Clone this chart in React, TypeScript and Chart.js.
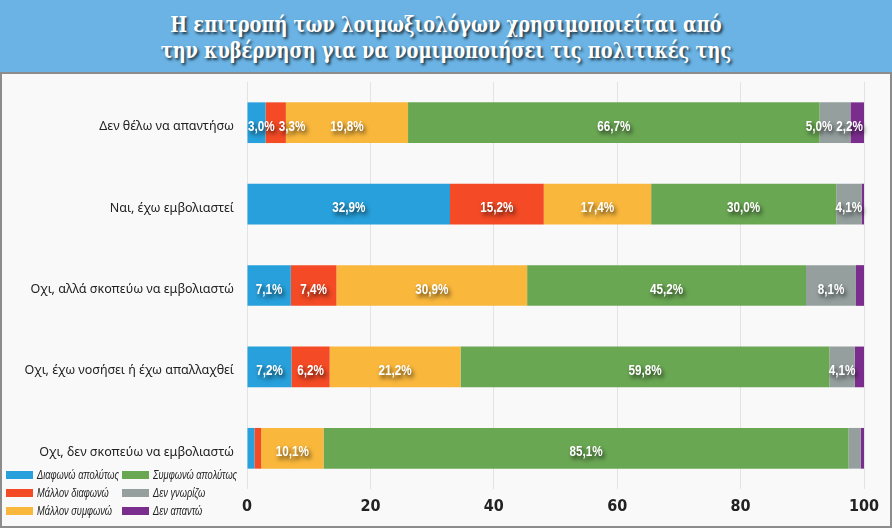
import React, { useEffect, useRef } from 'react';
import { Chart, registerables } from 'chart.js';

Chart.register(...registerables);

const titleLines = [
  'Η επιτροπή των λοιμωξιολόγων χρησιμοποιείται από',
  'την κυβέρνηση για να νομιμοποιήσει τις πολιτικές της',
];

const categories = [
  'Δεν θέλω να απαντήσω',
  'Ναι, έχω εμβολιαστεί',
  'Οχι, αλλά σκοπεύω να εμβολιαστώ',
  'Οχι, έχω νοσήσει ή έχω απαλλαχθεί',
  'Οχι, δεν σκοπεύω να εμβολιαστώ',
];

const seriesNames = [
  'Διαφωνώ απολύτως',
  'Μάλλον διαφωνώ',
  'Μάλλον συμφωνώ',
  'Συμφωνώ απολύτως',
  'Δεν γνωρίζω',
  'Δεν απαντώ',
];

const disagreeFully = [3.0, 32.9, 7.1, 7.2, 1.2];
const ratherDisagree = [3.3, 15.2, 7.4, 6.2, 1.1];
const ratherAgree = [19.8, 17.4, 30.9, 21.2, 10.1];
const agreeFully = [66.7, 30.0, 45.2, 59.8, 85.1];
const dontKnow = [5.0, 4.1, 8.1, 4.1, 2.0];
const noAnswer = [2.2, 0.4, 1.3, 1.5, 0.5];

const xTicks = [0, 20, 40, 60, 80, 100];

const seriesValues = [disagreeFully, ratherDisagree, ratherAgree, agreeFully, dontKnow, noAnswer];
const seriesColors = ['#27A0DB', '#F44A25', '#F9B73C', '#6AA753', '#95A09E', '#7B2D8E'];

const sansFont = "'Liberation Sans', Arial, sans-serif";
const condensed = "'DejaVu Sans Condensed', sans-serif";
const LABEL_SQUEEZE = 0.78;

const fmt = (v: number) => v.toFixed(1).replace('.', ',') + '%';

const labelPlugin = {
  id: 'segLabels',
  afterDatasetsDraw(chart: any) {
    const ctx = chart.ctx;
    const area = chart.chartArea;
    ctx.save();
    ctx.font = `bold 15px ${sansFont}`;
    const gap = 4;
    const rows: any[][] = categories.map(() => []);
    chart.data.datasets.forEach((ds: any, i: number) => {
      const meta = chart.getDatasetMeta(i);
      meta.data.forEach((el: any, j: number) => {
        const v = ds.data[j];
        if (v < 2.1) return;
        const p = el.getProps(['x', 'base', 'y'], true);
        const text = fmt(v);
        const w = ctx.measureText(text).width * LABEL_SQUEEZE;
        const c = (p.x + p.base) / 2;
        rows[j].push({ text, w, left: c - w / 2, y: p.y });
      });
    });
    rows.forEach((row) => {
      for (let k = 0; k < row.length; k++) {
        const minLeft = k === 0 ? area.left + 1 : row[k - 1].left + row[k - 1].w + gap;
        if (row[k].left < minLeft) row[k].left = minLeft;
      }
      for (let k = row.length - 1; k >= 0; k--) {
        const maxRight = k === row.length - 1 ? area.right - 1 : row[k + 1].left - gap;
        if (row[k].left + row[k].w > maxRight) row[k].left = maxRight - row[k].w;
      }
    });
    ctx.fillStyle = '#ffffff';
    ctx.textAlign = 'left';
    ctx.textBaseline = 'middle';
    ctx.shadowColor = 'rgba(0,0,0,0.7)';
    ctx.shadowBlur = 4;
    ctx.shadowOffsetX = 2;
    ctx.shadowOffsetY = 3;
    rows.forEach((row) => {
      row.forEach((l: any) => {
        ctx.save();
        ctx.translate(l.left, l.y + 4);
        ctx.scale(LABEL_SQUEEZE, 1);
        ctx.fillText(l.text, 0, 0);
        ctx.restore();
      });
    });
    ctx.restore();
  },
};

export default function App() {
  const canvasRef = useRef<HTMLCanvasElement | null>(null);

  useEffect(() => {
    document.body.style.margin = '0';
    const canvas = canvasRef.current;
    if (!canvas) return;
    const chart = new Chart(canvas, {
      type: 'bar',
      data: {
        labels: categories,
        datasets: seriesNames.map((name, i) => ({
          label: name,
          data: seriesValues[i],
          backgroundColor: seriesColors[i],
          borderWidth: 0,
          categoryPercentage: 1,
          barPercentage: 0.5,
        })),
      },
      options: {
        indexAxis: 'y',
        animation: false,
        responsive: false,
        maintainAspectRatio: false,
        layout: { padding: { top: 8, right: 26, left: 0, bottom: 0 } },
        plugins: {
          legend: { display: false },
          tooltip: { enabled: false },
          title: { display: false },
        },
        scales: {
          x: {
            stacked: true,
            min: 0,
            max: 100,
            afterBuildTicks: (axis: any) => {
              axis.ticks = xTicks.map((v) => ({ value: v }));
            },
            grid: { color: '#e3e3e3', drawTicks: false, lineWidth: 1 },
            border: { display: false },
            ticks: {
              padding: 8,
              color: '#222',
              font: { family: condensed, size: 16, weight: 'bold' },
            },
            afterFit: (axis: any) => {
              axis.height = 37;
            },
          },
          y: {
            stacked: true,
            grid: { display: false, drawTicks: false },
            border: { display: false },
            ticks: {
              padding: 13,
              labelOffset: 4,
              color: '#222',
              font: { family: "'Noto Sans', sans-serif", size: 12.5 },
            },
            afterFit: (axis: any) => {
              axis.width = 245;
              axis.paddingTop = 0;
              axis.paddingBottom = 0;
            },
          },
        },
      },
      plugins: [labelPlugin],
    } as any);
    return () => chart.destroy();
  }, []);

  const legendPos = [
    { left: 6, top: 468 },
    { left: 6, top: 486 },
    { left: 6, top: 504 },
    { left: 122, top: 468 },
    { left: 122, top: 486 },
    { left: 122, top: 504 },
  ];

  return (
    <div style={{ position: 'absolute', left: 0, top: 0, width: 892, height: 528, background: '#fff', overflow: 'hidden' }}>
      <div
        style={{
          position: 'absolute',
          left: 0,
          top: 0,
          width: 892,
          height: 73,
          background: '#6AB3E4',
          color: '#fff',
          textAlign: 'center',
          fontFamily: "'DejaVu Serif Condensed', 'DejaVu Serif', serif",
          fontWeight: 'bold',
          fontSize: 23,
          lineHeight: '26px',
          paddingTop: 11,
          boxSizing: 'border-box',
          textShadow: '2px 2px 3px rgba(0,0,0,0.75)',
        }}
      >
        {titleLines.map((t) => (
          <div key={t} style={{ transform: 'scaleX(0.86)', whiteSpace: 'nowrap' }}>
            {t}
          </div>
        ))}
      </div>
      <div
        style={{
          position: 'absolute',
          left: 0,
          top: 72,
          width: 892,
          height: 456,
          border: '2px solid #8c8c8c',
          boxSizing: 'border-box',
          background: '#f9f9f9',
        }}
      >
        <canvas ref={canvasRef} width={888} height={452} style={{ position: 'absolute', left: 0, top: 0, width: 888, height: 452 }} />
      </div>
      {seriesNames.map((name, i) => (
        <div
          key={name}
          style={{
            position: 'absolute',
            left: legendPos[i].left,
            top: legendPos[i].top,
            height: 14,
            display: 'flex',
            alignItems: 'center',
            whiteSpace: 'nowrap',
          }}
        >
          <span style={{ display: 'inline-block', width: 27, height: 8, background: seriesColors[i], marginRight: 4 }} />
          <span
            style={{
              display: 'inline-block',
              fontFamily: sansFont,
              fontStyle: 'italic',
              fontSize: 12,
              color: '#222',
              transform: 'scaleX(0.77)',
              transformOrigin: 'left center',
            }}
          >
            {name}
          </span>
        </div>
      ))}
    </div>
  );
}
